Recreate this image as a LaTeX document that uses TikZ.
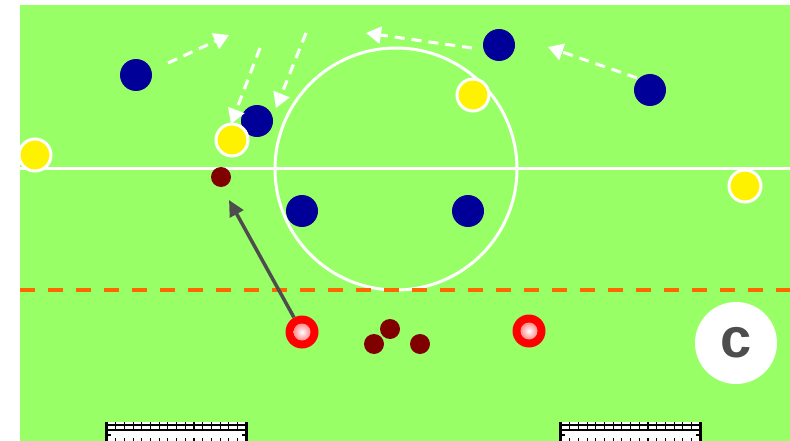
\documentclass[tikz,border=0pt]{standalone}
\usepackage{fontspec}
\setsansfont{Liberation Sans}
\usetikzlibrary{arrows.meta}
\definecolor{fieldgreen}{RGB}{153,255,102}
\definecolor{navy}{RGB}{0,0,153}
\definecolor{ballred}{RGB}{128,0,0}
\definecolor{lineorange}{RGB}{255,102,0}
\definecolor{arrowgray}{RGB}{77,77,77}
\definecolor{conepink}{RGB}{255,140,140}
\tikzset{
  blueplayer/.style={circle, fill=navy, minimum size=32pt, inner sep=0pt},
  yellowplayer/.style={circle, fill=yellow, draw=white, line width=3pt, minimum size=32pt, inner sep=0pt},
  ball/.style={circle, fill=ballred, minimum size=20pt, inner sep=0pt},
  cone/.style={circle, fill=red, minimum size=33pt, inner sep=0pt},
  coneinner/.style={circle, inner color=white, outer color=conepink, minimum size=17pt, inner sep=0pt},
  runarrow/.style={white, line width=3pt, dash pattern=on 10pt off 7pt, -{Triangle[length=15pt,width=17pt]}},
  passarrow/.style={arrowgray, line width=3.5pt, -{Triangle[length=16pt,width=15pt]}},
  fieldline/.style={white, line width=3pt},
  goal/.pic={
    \fill[white] (0,0) rectangle (143,20);
    \draw[black, line width=1.2pt] (0,3) -- (143,3);
    \draw[black, line width=1.4pt] (0,8) -- (143,8);
    \foreach \i in {0,...,16} \draw[black, line width=1.1pt] (2+\i*8.7,0) -- (2+\i*8.7,7);
    \fill[black] (0,0) rectangle (3,20);
    \fill[black] (140,0) rectangle (143,20);
    \draw[black, line width=1.2pt] (0,13) -- (6,13);
    \draw[black, line width=1.2pt] (137,13) -- (143,13);
    \foreach \i in {1,...,15} \draw[black, line width=1.1pt] (2+\i*8.7,16) -- (2+\i*8.7,20);
  }
}
\begin{document}
\begin{tikzpicture}[x=1pt,y=-1pt]
\useasboundingbox (0,0) rectangle (790,441);
\fill[fieldgreen] (20,5) rectangle (790,441);
% pitch markings
\draw[fieldline] (20,169) -- (790,169);
\draw[fieldline] (396,169) circle (121pt);
\draw[lineorange, line width=3.5pt, dash pattern=on 15pt off 13pt] (20,290) -- (790,290);
% goals
\pic at (105,422) {goal};
\pic at (559,422) {goal};
% blue players
\node[blueplayer] (b1) at (136,75) {};
\node[blueplayer] (b2) at (499,45) {};
\node[blueplayer] (b3) at (650,90) {};
\node[blueplayer] (b4) at (257,121) {};
\node[blueplayer] (b5) at (302,211) {};
\node[blueplayer] (b6) at (468,211) {};
% yellow players
\node[yellowplayer] (y1) at (35,155) {};
\node[yellowplayer] (y2) at (473,95) {};
\node[yellowplayer] (y3) at (232,140) {};
\node[yellowplayer] (y4) at (745,186) {};
% balls
\node[ball] (ball1) at (221,177) {};
\node[ball] (ball2) at (390,329) {};
\node[ball] (ball3) at (374,344) {};
\node[ball] (ball4) at (420,344) {};
% cones
\node[cone] (cone1) at (302,332) {};
\node[coneinner] (cone1i) at (302,332) {};
\node[cone] (cone2) at (529,331) {};
\node[coneinner] (cone2i) at (529,331) {};
% coach
\node[circle, fill=white, minimum size=82pt, inner sep=0pt, text=arrowgray,
      font=\sffamily\bfseries\fontsize{56}{56}\selectfont] (coach) at (736,343) {c};
% run arrows
\coordinate (r1s) at (168,63);  \coordinate (r1e) at (229,35);
\coordinate (r2s) at (260,48);  \coordinate (r2e) at (231,124);
\coordinate (r3s) at (306,33);  \coordinate (r3e) at (276,108);
\coordinate (r4s) at (472,48);  \coordinate (r4e) at (366,33);
\coordinate (r5s) at (637,78);  \coordinate (r5e) at (548,47);
\draw[runarrow] (r1s) -- (r1e);
\draw[runarrow] (r2s) -- (r2e);
\draw[runarrow] (r3s) -- (r3e);
\draw[runarrow] (r4s) -- (r4e);
\draw[runarrow] (r5s) -- (r5e);
% pass arrow
\coordinate (p1e) at (229,200);
\draw[passarrow] (cone1) -- (p1e);
\end{tikzpicture}
\end{document}
